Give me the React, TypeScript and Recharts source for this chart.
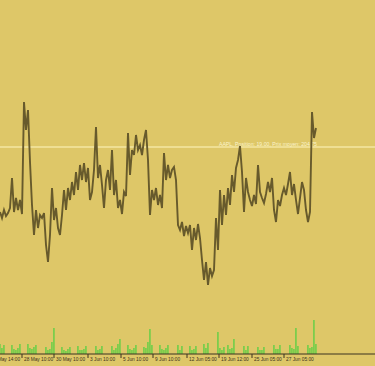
import type { FC } from 'react';
import {
  ComposedChart,
  Line,
  Bar,
  XAxis,
  YAxis,
  ReferenceLine,
} from 'recharts';

// close prices, one every two pixels of the original
const prices = [
  198.25, 197.65, 198.45, 197.85, 198.15, 198.65, 201.65, 198.25, 199.65, 198.45,
  199.45, 198.05, 209.25, 206.45, 208.45, 203.25, 198.95, 195.95, 198.45, 196.65,
  197.95, 197.65, 198.15, 194.95, 193.25, 195.95, 200.65, 197.45, 198.65, 196.65,
  195.95, 197.95, 200.45, 198.45, 200.65, 199.45, 201.25, 199.95, 202.25, 200.45,
  202.95, 201.45, 203.15, 201.25, 202.65, 199.45, 200.25, 202.45, 206.75, 201.65,
  202.95, 200.95, 198.65, 201.45, 202.45, 200.45, 204.45, 199.95, 201.45, 198.65,
  199.45, 198.05, 200.25, 199.85, 206.15, 201.95, 204.45, 203.95, 205.95, 204.45,
  204.95, 203.95, 205.45, 206.45, 203.45, 197.95, 200.45, 199.45, 200.65, 198.95,
  199.95, 198.65, 204.15, 201.45, 202.95, 201.65, 202.45, 202.75, 201.45, 196.95,
  196.45, 197.25, 195.85, 196.85, 196.15, 196.95, 194.45, 196.65, 195.45, 197.05,
  195.65, 193.45, 191.45, 193.25, 190.95, 192.65, 191.85, 192.45, 197.65, 194.45,
  200.45, 196.95, 199.95, 197.95, 200.65, 198.95, 201.95, 200.25, 202.65, 203.45,
  204.85, 202.25, 198.25, 201.65, 200.25, 199.45, 198.85, 199.95, 199.05, 202.95,
  200.25, 199.65, 199.15, 200.05, 201.25, 200.25, 201.65, 198.45, 197.25, 199.45,
  198.85, 199.95, 200.65, 199.95, 201.05, 202.25, 199.95, 201.05, 199.45, 198.05,
  199.65, 201.25, 200.45, 198.45, 197.25, 198.25, 208.25, 205.65, 206.65,
];

const volumes = [
  10, 6, 9, 0, 0, 0, 9, 5, 4, 6,
  10, 0, 0, 0, 10, 6, 5, 7, 9, 0,
  0, 0, 0, 7, 4, 5, 12, 26, 0, 0,
  0, 7, 4, 3, 5, 7, 0, 0, 0, 8,
  4, 4, 5, 8, 0, 0, 0, 0, 8, 4,
  5, 8, 0, 0, 0, 0, 8, 4, 6, 10,
  15, 0, 0, 0, 9, 5, 4, 6, 9, 0,
  0, 0, 7, 6, 12, 25, 9, 0, 0, 0,
  9, 5, 4, 6, 9, 0, 0, 0, 0, 9,
  4, 8, 0, 0, 0, 8, 4, 5, 8, 0,
  0, 0, 10, 6, 11, 0, 0, 0, 0, 22,
  6, 4, 7, 0, 9, 5, 6, 15, 0, 0,
  0, 0, 8, 4, 8, 0, 0, 0, 0, 7,
  4, 4, 7, 0, 0, 0, 0, 9, 5, 5,
  9, 0, 0, 0, 0, 9, 6, 5, 26, 8,
  0, 0, 0, 0, 9, 6, 7, 34, 10,
];

const tickPositions = [-5.5, 11, 27, 44, 60.5, 76.5, 93.5, 109.5, 126, 142];
const tickLabels = [
  '26 May 14:00',
  '28 May 10:00',
  '30 May 10:00',
  '3 Jun 10:00',
  '5 Jun 10:00',
  '9 Jun 10:00',
  '12 Jun 05:00',
  '19 Jun 12:00',
  '25 Jun 05:00',
  '27 Jun 05:00',
];

const avgPrice = 204.75;
const positionLabel = 'AAPL, Position: 19.00, Prix moyen: 204.75';

const data = prices.map((price, i) => ({ t: i, price, volume: volumes[i] }));

const BG = '#dec768';
const AXIS = '#3a3320';

const DateTick: FC<any> = ({ x, y, payload }) => {
  const idx = tickPositions.indexOf(payload.value);
  return (
    <g>
      <line x1={x} y1={y - 8} x2={x} y2={y - 4} stroke={AXIS} strokeWidth={1} />
      <text
        x={x + 2}
        y={y - 1}
        fontSize={4.8}
        fill={AXIS}
        fontFamily="Liberation Sans, Arial, sans-serif"
      >
        {tickLabels[idx]}
      </text>
    </g>
  );
};

const PositionLabel: FC<any> = ({ viewBox }) => (
  <text
    x={337}
    y={viewBox.y - 1.5}
    textAnchor="end"
    fontSize={5.2}
    fill="#fbf4cc"
    fontFamily="Liberation Sans, Arial, sans-serif"
  >
    {positionLabel}
  </text>
);

const App: FC = () => {
  return (
    <div
      style={{
        position: 'absolute',
        left: 0,
        top: 0,
        width: 375,
        height: 366,
        overflow: 'hidden',
        background: BG,
      }}
    >
      <div style={{ marginLeft: -20 }}>
        <ComposedChart
          width={395}
          height={366}
          data={data}
          margin={{ top: 0, right: 0, bottom: 0, left: 0 }}
        >
          <XAxis
            dataKey="t"
            type="number"
            domain={[-10, 187.5]}
            ticks={tickPositions}
            interval={0}
            height={12}
            axisLine={{ stroke: AXIS, strokeWidth: 1 }}
            tickLine={false}
            tick={<DateTick />}
          />
          <YAxis yAxisId="price" hide domain={[184.05, 219.45]} />
          <YAxis yAxisId="vol" hide domain={[0, 354]} />
          <Bar
            yAxisId="vol"
            dataKey="volume"
            fill="#7ccd4c"
            barSize={2}
            isAnimationActive={false}
          />
          <ReferenceLine
            yAxisId="price"
            y={avgPrice}
            stroke="#fff6bf"
            strokeWidth={1}
            label={<PositionLabel />}
          />
          <Line
            yAxisId="price"
            dataKey="price"
            type="linear"
            stroke="#675a2c"
            strokeWidth={1.9}
            dot={false}
            activeDot={false}
            isAnimationActive={false}
          />
        </ComposedChart>
      </div>
    </div>
  );
};

export default App;
